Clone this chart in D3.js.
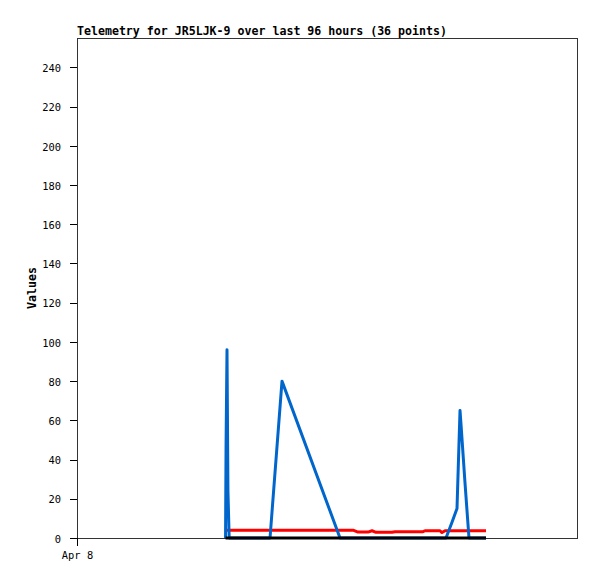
<!DOCTYPE html>
<html>
<head>
<meta charset="utf-8">
<title>Telemetry</title>
<script src="https://cdn.jsdelivr.net/npm/d3@7"></script>
<style>
  body { margin: 0; background: #fff; }
  text { font-family: "DejaVu Sans Mono", "Liberation Mono", monospace; }
</style>
</head>
<body>
<div id="chart"></div>
<script>
// hours after Apr 8 00:00 for each of the 36 telemetry points
var hours = [28.52, 28.62, 28.80, 28.98, 29.22, 30.34, 32.83, 35.52, 37.06, 39.36,
             50.50, 52.99, 53.95, 55.87, 56.64, 57.41, 59.14, 60.48, 61.06, 63.94,
             66.43, 66.82, 69.70, 70.08, 70.66, 70.85, 72.00, 72.96, 73.34, 73.54,
             73.73, 74.50, 75.26, 76.42, 77.38, 78.53];
var blueVals = [0, 48, 96, 24, 0, 0, 0, 0, 0, 80,
                0, 0, 0, 0, 0, 0, 0, 0, 0, 0,
                0, 0, 0, 0, 0, 0, 8, 15, 48, 65,
                58, 28, 0, 0, 0, 0];
var redVals = [4.0, 4.0, 4.0, 4.0, 4.0, 4.0, 4.0, 4.0, 4.0, 4.0,
               4.0, 4.0, 3.0, 3.0, 3.7, 2.9, 2.9, 2.9, 3.2, 3.2,
               3.2, 3.7, 3.7, 2.8, 3.7, 3.7, 3.7, 3.7, 3.7, 3.7,
               3.7, 3.7, 3.7, 3.7, 3.7, 3.7];
var blackVals = hours.map(function() { return 0; });
var yTicks = [0, 20, 40, 60, 80, 100, 120, 140, 160, 180, 200, 220, 240];
var title = "Telemetry for JR5LJK-9 over last 96 hours (36 points)";

var W = 597, H = 579;
var margin = {top: 38, right: 20, bottom: 41, left: 77};
var width = 500, height = 500;

var start = new Date(2024, 3, 8, 0, 0);
var x = d3.scaleTime()
    .domain([start, d3.timeHour.offset(start, 96)])
    .range([0, width]);
var y = d3.scaleLinear().domain([0, 255]).range([height, 0]);

var svg = d3.select("#chart").append("svg")
    .attr("width", W).attr("height", H);

svg.append("text")
    .attr("x", margin.left).attr("y", 35)
    .attr("font-size", "11.6px").attr("font-weight", "bold")
    .text(title);

svg.append("text")
    .attr("transform", "translate(36," + (margin.top + height / 2) + ") rotate(-90)")
    .attr("text-anchor", "middle")
    .attr("font-size", "11.6px").attr("font-weight", "bold")
    .text("Values");

var g = svg.append("g")
    .attr("transform", "translate(" + margin.left + "," + margin.top + ")");

// frame
g.append("rect")
    .attr("x", 0.5).attr("y", 0.5)
    .attr("width", width).attr("height", height)
    .attr("fill", "none").attr("stroke", "#333")
    .attr("shape-rendering", "crispEdges");

var yAxis = g.append("g")
    .call(d3.axisLeft(y).tickValues(yTicks).tickSize(7).tickPadding(9));
yAxis.select(".domain").remove();
yAxis.selectAll("text").attr("font-size", "10.4px").attr("dy", "0.4em")
    .style("font-family", "'DejaVu Sans Mono', monospace").attr("fill", "#000");
yAxis.selectAll("line").attr("shape-rendering", "crispEdges");

var xAxis = g.append("g")
    .attr("transform", "translate(0," + height + ")")
    .call(d3.axisBottom(x).tickValues([start]).tickFormat(d3.timeFormat("%b %-d"))
        .tickSize(8).tickPadding(6));
xAxis.select(".domain").remove();
xAxis.selectAll("text").attr("font-size", "10.4px")
    .style("font-family", "'DejaVu Sans Mono', monospace").attr("fill", "#000");
xAxis.selectAll("line").attr("shape-rendering", "crispEdges");

var times = hours.map(function(h) { return new Date(start.getTime() + h * 3600000); });

function drawSeries(vals, color) {
  var line = d3.line()
      .x(function(d, i) { return x(times[i]); })
      .y(function(d) { return y(d); });
  g.append("path")
      .datum(vals)
      .attr("d", line)
      .attr("fill", "none")
      .attr("stroke", color)
      .attr("stroke-width", 3)
      .attr("stroke-linejoin", "round");
}

drawSeries(redVals, "#ff0000");
drawSeries(blueVals, "#0066cc");
drawSeries(blackVals, "#000000");
</script>
</body>
</html>
